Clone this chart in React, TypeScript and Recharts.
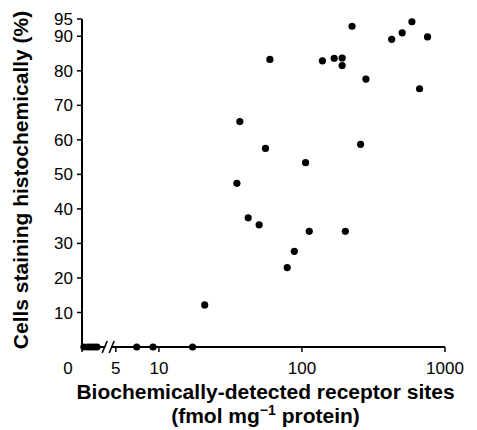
import React from 'react';
import { ScatterChart, Scatter, XAxis, YAxis, ReferenceDot } from 'recharts';

// Receptor sites (fmol/mg protein) vs % cells staining histochemically
const sitesX = [20.9, 35.1, 36.8, 42.1, 50.2, 55.6, 59.7, 78.9, 88.4, 106, 112.5, 201, 139, 168, 191, 191, 224, 257, 280, 424, 502, 587, 755, 664];
const stainingY = [12.2, 47.4, 65.3, 37.4, 35.4, 57.5, 83.3, 23.0, 27.7, 53.4, 33.5, 33.5, 82.9, 83.6, 83.7, 81.5, 92.9, 58.7, 77.6, 89.1, 91.0, 94.2, 89.8, 74.8];

// Tumours with detectable sites but no staining
const unstainedSitesX = [7.0, 9.1, 17.2];
// Tumours with no detectable sites (plotted in the "0" segment before the axis break)
const undetectedPlotX = [2.99, 3.19, 3.35, 3.52, 3.69];

const X_MIN = 2.9;
const X_MAX = 1000;
const BREAK_AT = 4.42;
const xTicks = [X_MIN, 5, 10, 100, 1000];
const xTickLabels = ['0', '5', '10', '100', '1000'];
const yTicks = [10, 20, 30, 40, 50, 60, 70, 80, 90, 95];

const FONT = '"Liberation Sans", Arial, Helvetica, sans-serif';

const mainData = sitesX.map((x, i) => ({ x, y: stainingY[i] }));
const zeroData = [
  ...unstainedSitesX.map((x) => ({ x, y: 0 })),
  ...undetectedPlotX.map((x) => ({ x, y: 0 })),
];

const Dot = (p: any) => <circle cx={p.cx} cy={p.cy} r={3.6} fill="#000" />;

const XTick = (props: any) => {
  const { x, y, payload } = props;
  const idx = xTicks.indexOf(payload.value);
  const label = idx >= 0 ? xTickLabels[idx] : String(payload.value);
  const isZero = payload.value === X_MIN;
  return (
    <text x={isZero ? x - 14 : x} y={y} dy="0.71em" textAnchor="middle" fontSize={17} fill="#000" fontFamily={FONT}>
      {label}
    </text>
  );
};

const XTitle = (props: any) => {
  const vb = props.viewBox || { x: 82, y: 347, width: 363, height: 30 };
  const cx = vb.x + vb.width / 2 + 2;
  return (
    <g>
      <text x={cx} y={vb.y + 52} textAnchor="middle" fontSize={21} fontWeight="bold" fill="#000" fontFamily={FONT}>
        Biochemically-detected receptor sites
      </text>
      <text x={cx} y={vb.y + 76} textAnchor="middle" fontSize={21} fontWeight="bold" fill="#000" fontFamily={FONT}>
        (fmol mg
        <tspan fontSize={14} dy={-8}>−1</tspan>
        <tspan dy={8}> protein)</tspan>
      </text>
    </g>
  );
};

const YTitle = (props: any) => {
  const vb = props.viewBox || { x: 22, y: 19, width: 60, height: 328 };
  const cy = vb.y + vb.height / 2 - 3;
  return (
    <text
      transform={`rotate(-90)`}
      x={-cy}
      y={28}
      textAnchor="middle"
      fontSize={21}
      fontWeight="bold"
      fill="#000"
      fontFamily={FONT}
    >
      Cells staining histochemically (%)
    </text>
  );
};

const BreakMark = (p: any) => {
  const { cx, cy } = p;
  if (cx == null || cy == null) return null;
  return (
    <g>
      <rect x={cx - 3} y={cy - 2} width={6} height={4} fill="#fff" />
      <line x1={cx - 6} y1={cy + 6} x2={cx - 1} y2={cy - 6} stroke="#000" strokeWidth={1.6} />
      <line x1={cx + 1} y1={cy + 6} x2={cx + 6} y2={cy - 6} stroke="#000" strokeWidth={1.6} />
    </g>
  );
};

export default function App() {
  return (
    <div style={{ position: 'absolute', left: 0, top: 0, width: 477, height: 430, background: '#fff' }}>
      <ScatterChart width={477} height={430} margin={{ top: 19, right: 32, bottom: 53, left: 22 }}>
        <XAxis
          dataKey="x"
          type="number"
          scale="log"
          domain={[X_MIN, X_MAX]}
          ticks={xTicks}
          interval={0}
          height={30}
          tick={<XTick />}
          tickSize={5}
          tickMargin={10}
          axisLine={{ stroke: '#000', strokeWidth: 2 }}
          tickLine={{ stroke: '#000', strokeWidth: 1.5 }}
          label={<XTitle />}
        />
        <YAxis
          dataKey="y"
          type="number"
          domain={[0, 95]}
          ticks={yTicks}
          interval={0}
          width={60}
          tickSize={5}
          tickMargin={4}
          tick={{ fontSize: 17, fill: '#000', fontFamily: FONT }}
          axisLine={{ stroke: '#000', strokeWidth: 2 }}
          tickLine={{ stroke: '#000', strokeWidth: 1.5 }}
          label={<YTitle />}
        />
        <Scatter data={zeroData} shape={Dot} isAnimationActive={false} />
        <Scatter data={mainData} shape={Dot} isAnimationActive={false} />
        <ReferenceDot x={BREAK_AT} y={0} shape={BreakMark} ifOverflow="visible" />
      </ScatterChart>
    </div>
  );
}
